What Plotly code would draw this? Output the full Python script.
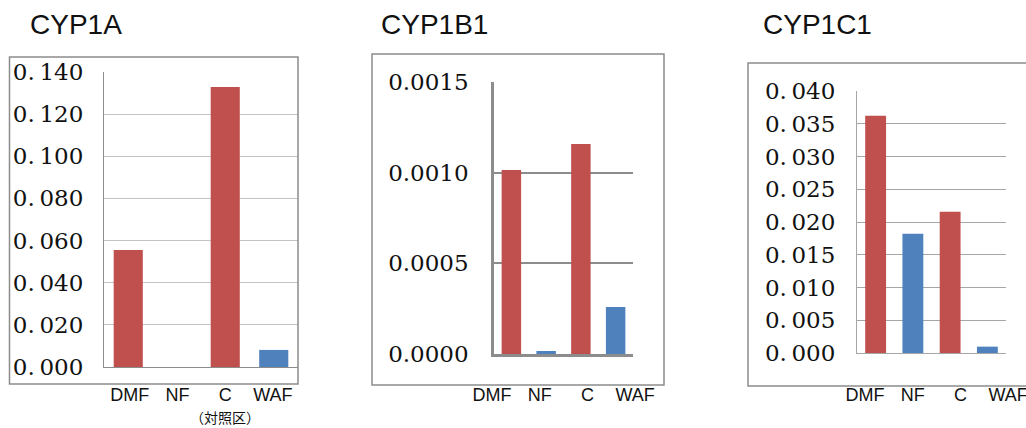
import plotly.graph_objects as go

# ---------------- data ----------------
categories = ["DMF", "NF", "C", "WAF"]
titles = ["CYP1A", "CYP1B1", "CYP1C1"]
cyp1a = [0.0555, 0.0, 0.1329, 0.0081]
cyp1b1 = [0.001015, 0.0000165, 0.001158, 0.000259]
cyp1c1 = [0.03623, 0.01821, 0.02157, 0.00097]
bar_colors = ["#C0504D", "#4F81BD", "#C0504D", "#4F81BD"]

tick1_vals = [0.000, 0.020, 0.040, 0.060, 0.080, 0.100, 0.120, 0.140]
tick1_text = ["0.\u2009000", "0.\u2009020", "0.\u2009040", "0.\u2009060",
              "0.\u2009080", "0.\u2009100", "0.\u2009120", "0.\u2009140"]
tick2_vals = [0.0000, 0.0005, 0.0010, 0.0015]
tick2_text = ["0.0000", "0.0005", "0.0010", "0.0015"]
tick3_vals = [0.000, 0.005, 0.010, 0.015, 0.020, 0.025, 0.030, 0.035, 0.040]
tick3_text = ["0.\u2009000", "0.\u2009005", "0.\u2009010", "0.\u2009015", "0.\u2009020",
              "0.\u2009025", "0.\u2009030", "0.\u2009035", "0.\u2009040"]
control_note = "（対照区）"

# ---------------- layout helpers ----------------
W, H = 1026, 428
def px(x):
    return x / W
def py(y):
    return 1 - y / H

SERIF = "DejaVu Serif"
SANS = "Liberation Sans, Arial, sans-serif"

fig = go.Figure()

panels = [
    dict(vals=cyp1a, width=0.6, xdom=(104, 298), ydom=(72, 367), yr=[0, 0.14],
         tv=tick1_vals, tt=tick1_text, grid="#c3c3c3", gw=1.2, axc="#8c8c8c", aw=1.2,
         lab=(105.9, 296.7), labr=[-0.5, 3.5], so=15),
    dict(vals=cyp1b1, width=0.56, xdom=(494, 633), ydom=(82, 354), yr=[0, 0.0015],
         tv=tick2_vals, tt=tick2_text, grid="#8c8c8c", gw=2, axc="#8c8c8c", aw=2.5,
         lab=(468.2, 658.9), labr=[-0.5, 3.5], so=18),
    dict(vals=cyp1c1, width=0.56, xdom=(857, 1006), ydom=(91, 353), yr=[0, 0.04],
         tv=tick3_vals, tt=tick3_text, grid="#a6a6a6", gw=1, axc="#a6a6a6", aw=1,
         lab=(841.2, 1026), labr=[-0.5, -0.5 + (1026 - 841.2) / 47.7], so=16),
]

layout = dict(
    width=W, height=H, margin=dict(l=0, r=0, t=0, b=0),
    paper_bgcolor="white", plot_bgcolor="rgba(0,0,0,0)", showlegend=False,
    template="none",
)

for i, p in enumerate(panels):
    n = i + 1
    xa = "x" if n == 1 else f"x{n}"
    ya = "y" if n == 1 else f"y{n}"
    fig.add_trace(go.Bar(x=categories, y=p["vals"], marker=dict(color=bar_colors, line=dict(width=0)),
                         width=p["width"], xaxis=xa, yaxis=ya, hoverinfo="x+y"))
    layout[f"xaxis{'' if n == 1 else n}"] = dict(
        domain=[px(p["xdom"][0]), px(p["xdom"][1])], anchor=ya, type="category",
        showticklabels=False, showgrid=False, zeroline=False, ticks="",
        showline=True, linecolor=p["axc"], linewidth=p["aw"], range=[-0.5, 3.5],
    )
    layout[f"yaxis{'' if n == 1 else n}"] = dict(
        domain=[py(p["ydom"][1]), py(p["ydom"][0])], anchor=xa, range=p["yr"],
        tickmode="array", tickvals=p["tv"], ticktext=p["tt"],
        showgrid=True, gridcolor=p["grid"], gridwidth=p["gw"], zeroline=False,
        showline=True, linecolor=p["axc"], linewidth=p["aw"], ticks="",
        ticklabelstandoff=p["so"],
        tickfont=dict(family=SERIF, size=23, color="#111111"),
    )
    # separate label axis (category labels below the frame) with its own hidden y axis
    lx = f"x{n + 3}"
    ly = f"y{n + 3}"
    fig.add_trace(go.Scatter(x=[None], y=[None], xaxis=lx, yaxis=ly, showlegend=False,
                             hoverinfo="skip"))
    layout[f"xaxis{n + 3}"] = dict(
        domain=[px(p["lab"][0]), px(p["lab"][1])], anchor=ly,
        range=p["labr"], tickmode="array", tickvals=list(range(len(categories))),
        ticktext=categories, showgrid=False, zeroline=False, showline=False, ticks="",
        ticklabelstandoff=0, ticklabeloverflow="allow",
        tickfont=dict(family=SANS, size=18, color="#111111"),
    )
    layout[f"yaxis{n + 3}"] = dict(
        domain=[py(382), py(378)], anchor=lx, range=[0, 1], visible=False,
        showgrid=False, zeroline=False, showline=False, showticklabels=False,
    )

fig.update_layout(**layout)

# frames around each chart
frames = [(9.5, 57, 298, 384), (372, 54, 664, 385), (748, 63, 1040, 386)]
for (x0, y0, x1, y1) in frames:
    fig.add_shape(type="rect", xref="paper", yref="paper", x0=px(x0), x1=px(x1),
                  y0=py(y1), y1=py(y0), line=dict(color="#8c8c8c", width=1.5),
                  fillcolor="rgba(0,0,0,0)", layer="above")

# titles
title_x = [28, 379, 761]
for t, x in zip(titles, title_x):
    fig.add_annotation(text=t, xref="paper", yref="paper", x=px(x), y=py(24.5),
                       xanchor="left", yanchor="middle", showarrow=False,
                       font=dict(family=SANS, size=28, color="#111111"))

# note under control group
fig.add_annotation(text=control_note, xref="x4", yref="paper", x=2, y=py(417),
                   xanchor="center", yanchor="middle", showarrow=False,
                   font=dict(family="Noto Sans CJK JP", size=14, color="#111111"))

fig.write_html("out.html")
